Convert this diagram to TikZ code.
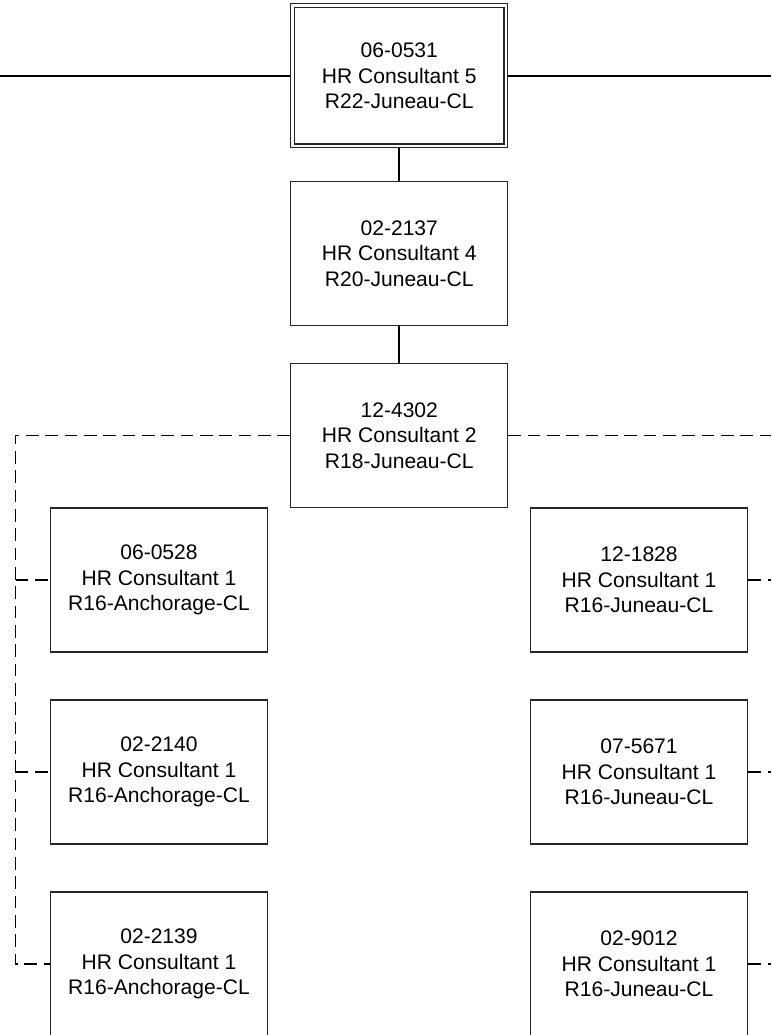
\documentclass[tikz,border=0pt]{standalone}
\usepackage{fontspec}
\setmainfont{Liberation Sans}
\begin{document}
\begin{tikzpicture}[x=0.75pt,y=-0.75pt,
  posbox/.style={draw=black!85, line width=1pt, fill=white, rectangle,
    minimum width=162.75pt, minimum height=108pt, inner sep=0pt,
    align=center, font=\fontsize{15.8pt}{19.2pt}\selectfont},
  solidlink/.style={draw=black, line width=1.3pt},
  dashlink/.style={draw=black, line width=1.3pt, dash pattern=on 9.5pt off 5pt}]
\useasboundingbox (0,0) rectangle (771,1035);
\clip (0,0) rectangle (771,1035);
% nodes
\node[posbox] (top) at (399.25,75.75) {06-0531\\HR Consultant 5\\R22-Juneau-CL};
\draw[draw=black!85, line width=1pt] ([shift={(3.4pt,-3.4pt)}]top.north west) rectangle ([shift={(-3.4pt,3.4pt)}]top.south east);
\node[posbox] (b2) at (399.25,253.5) {02-2137\\HR Consultant 4\\R20-Juneau-CL};
\node[posbox] (b3) at (399.25,435.5) {12-4302\\HR Consultant 2\\R18-Juneau-CL};
\node[posbox] (l1) at (159,580) {06-0528\\HR Consultant 1\\R16-Anchorage-CL};
\node[posbox] (l2) at (159,772) {02-2140\\HR Consultant 1\\R16-Anchorage-CL};
\node[posbox] (l3) at (159,964) {02-2139\\HR Consultant 1\\R16-Anchorage-CL};
\node[posbox] (r1) at (639,580) {12-1828\\HR Consultant 1\\R16-Juneau-CL};
\node[posbox] (r2) at (639,772) {07-5671\\HR Consultant 1\\R16-Juneau-CL};
\node[posbox] (r3) at (639,964) {02-9012\\HR Consultant 1\\R16-Juneau-CL};
% free ends
\coordinate (topL) at (0,75.75);
\coordinate (topR) at (771,75.75);
\coordinate (b3R) at (771,435.5);
\coordinate (spine) at (15.5,435.5);
\coordinate (r1R) at (771,580);
\coordinate (r2R) at (771,772);
\coordinate (r3R) at (771,964);
% solid connectors
\draw[solidlink] (top.west) -- (topL);
\draw[solidlink] (top.east) -- (topR);
\draw[solidlink] (top.south) -- (b2.north);
\draw[solidlink] (b2.south) -- (b3.north);
% dashed connectors
\draw[dashlink] (b3.west) -- (spine) -- (spine |- l3.west) -- (l3.west);
\draw[dashlink] (spine |- l1.west) -- (l1.west);
\draw[dashlink] (spine |- l2.west) -- (l2.west);
\draw[dashlink] (b3.east) -- (b3R);
\draw[dashlink] (r1.east) -- (r1R);
\draw[dashlink] (r2.east) -- (r2R);
\draw[dashlink] (r3.east) -- (r3R);
\end{tikzpicture}
\end{document}
